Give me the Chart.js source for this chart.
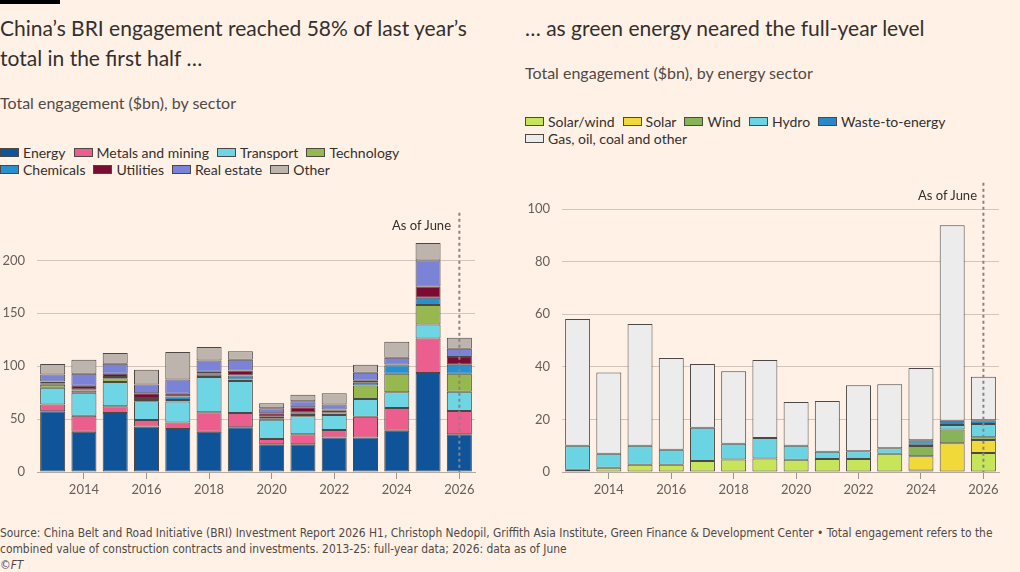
<!DOCTYPE html>
<html lang="en">
<head>
<meta charset="UTF-8">
<title>China BRI engagement</title>
<script src="https://cdn.jsdelivr.net/npm/chart.js"></script>
<style>
  body { margin: 0; background: #fff1e5; font-family: Lato, 'Noto Sans', sans-serif; color: #33302e; }
  #page { position: relative; width: 1020px; height: 572px; overflow: hidden; }
  .abs { position: absolute; }
  .topbar { left: 0; top: 0; width: 60px; height: 4px; background: #000; }
  .title { font-size: 21px; line-height: 30px; color: #33302e; white-space: nowrap; }
  .sub { font-size: 16px; line-height: 18px; color: #4f4a47; white-space: nowrap; }
  .legend { font-size: 14px; line-height: 17px; color: #33302e; white-space: nowrap; }
  .legend .item { display: inline-block; margin-right: 8px; }
  .legend i { display: inline-block; width: 17px; height: 7px; border: 1px solid #4d4845; margin-right: 4px; vertical-align: 1px; }
  .note { font-size: 13px; line-height: 16px; color: #33302e; white-space: nowrap; }
  #footer { left: 0; top: 525px; font-family: 'Liberation Sans Narrow', 'DejaVu Sans Condensed', sans-serif; font-size: 11.9px; line-height: 16px; color: #4f4a47; white-space: nowrap; }
  canvas { position: absolute; }
</style>
</head>
<body>
<div id="page">
  <div class="abs topbar"></div>
  <div class="abs title" style="left:0; top:13px;">China’s BRI engagement reached 58% of last year’s<br>total in the first half …</div>
  <div class="abs sub" style="left:0; top:94px;">Total engagement ($bn), by sector</div>
  <div class="abs legend" id="legendLeft" style="left:0; top:144px;"></div>

  <div class="abs title" style="left:525px; top:13px;">… as green energy neared the full-year level</div>
  <div class="abs sub" style="left:525px; top:64px;">Total engagement ($bn), by energy sector</div>
  <div class="abs legend" id="legendRight" style="left:525px; top:113px;"></div>

  <canvas id="sectorChart" width="485" height="308" style="left:0; top:193px;"></canvas>
  <canvas id="energyChart" width="500" height="338" style="left:510px; top:163px;"></canvas>

  <div class="abs note" style="right:569px; top:217px;">As of June</div>
  <div class="abs note" style="right:43px; top:187px;">As of June</div>

  <div class="abs" id="footer">Source: China Belt and Road Initiative (BRI) Investment Report 2026 H1, Christoph Nedopil, Griffith Asia Institute, Green Finance &amp; Development Center • Total engagement refers to the<br>combined value of construction contracts and investments. 2013-25: full-year data; 2026: data as of June<br><i>©FT</i></div>
</div>

<script>
// years shown on both charts
const years = ['2013', '2014', '2015', '2016', '2017', '2018', '2019', '2020', '2021', '2022', '2023', '2024', '2025', '2026'];

// left chart: engagement by sector ($bn)
const energy     = [57.4, 38.0, 55.8, 43.1, 40.6, 38.0, 42.2, 26.3, 26.3, 32.6, 32.6, 39.0, 93.5, 35.8];
const metals     = [6.3, 15.2, 6.3, 6.0, 6.3, 18.4, 13.6, 4.8, 9.5, 7.0, 19.7, 21.5, 32.6, 21.9];
const transport  = [15.9, 21.6, 22.9, 17.8, 19.7, 33.3, 30.1, 18.3, 16.8, 14.3, 16.8, 14.9, 13.4, 18.1];
const technology = [2.8, 2.2, 3.7, 1.2, 1.5, 2.2, 1.6, 1.3, 1.3, 2.5, 12.7, 17.5, 18.3, 17.1];
const chemicals  = [1.6, 1.3, 1.0, 1.9, 3.2, 1.0, 3.8, 1.9, 2.5, 1.6, 2.5, 7.9, 7.0, 8.5];
const utilities  = [1.6, 3.2, 3.2, 4.5, 2.6, 1.9, 4.7, 2.9, 4.8, 1.0, 1.9, 0.9, 10.5, 7.3];
const realEstate = [6.6, 11.4, 9.5, 8.2, 13.6, 10.7, 10.2, 4.7, 5.7, 4.7, 7.6, 6.4, 24.7, 7.9];
const other      = [9.8, 13.3, 10.1, 14.0, 26.0, 12.7, 7.9, 4.8, 6.0, 10.8, 7.6, 14.9, 16.5, 10.2];

// right chart: engagement by energy sector ($bn)
const solarWind = [0.9, 1.6, 2.8, 2.8, 4.2, 4.8, 5.1, 4.7, 4.9, 4.9, 6.9, 0.6, null, 7.2];
const solar     = [null, null, null, null, null, null, null, null, null, null, null, 5.4, 10.9, 5.0];
const wind      = [null, null, null, null, null, null, null, null, null, null, null, 3.9, 5.3, 1.0];
const hydro     = [9.1, 5.3, 7.2, 5.7, 12.6, 5.9, 7.8, 5.3, 2.8, 3.0, 2.1, 0.8, 1.7, 5.1];
const waste     = [null, null, null, null, null, null, null, null, null, null, null, 1.4, 1.6, 1.4];
const gasOil    = [48.2, 30.9, 46.3, 34.9, 24.3, 27.6, 29.7, 16.6, 19.3, 25.1, 24.4, 27.5, 74.4, 16.5];

// y tick labels
const sectorTicks = [0, 50, 100, 150, 200];
const energyTicks = [0, 20, 40, 60, 80, 100];

Chart.defaults.font.family = "Lato, 'Noto Sans', sans-serif";
Chart.defaults.color = '#66605c';

const sectorSets = [
  { label: 'Energy', data: energy, backgroundColor: '#0f5499' },
  { label: 'Metals and mining', data: metals, backgroundColor: '#eb5e8d' },
  { label: 'Transport', data: transport, backgroundColor: '#6dd5e3' },
  { label: 'Technology', data: technology, backgroundColor: '#96b84e' },
  { label: 'Chemicals', data: chemicals, backgroundColor: '#2890cf' },
  { label: 'Utilities', data: utilities, backgroundColor: '#7a0c34' },
  { label: 'Real estate', data: realEstate, backgroundColor: '#7b83d6' },
  { label: 'Other', data: other, backgroundColor: '#bdb5ad' }
];

const energySets = [
  { label: 'Solar/wind', data: solarWind, backgroundColor: '#c7e55a' },
  { label: 'Solar', data: solar, backgroundColor: '#f1d93a' },
  { label: 'Wind', data: wind, backgroundColor: '#86b456' },
  { label: 'Hydro', data: hydro, backgroundColor: '#6bd4e3' },
  { label: 'Waste-to-energy', data: waste, backgroundColor: '#2a88c8' },
  { label: 'Gas, oil, coal and other', data: gasOil, backgroundColor: '#ececec' }
];

// html legends, wrap after the given index
function buildLegend(el, sets, breakAfter) {
  el.innerHTML = sets.map((s, i) =>
    '<span class="item"><i style="background:' + s.backgroundColor + '"></i>' + s.label + '</span>' +
    (i === breakAfter ? '<br>' : '')
  ).join('');
}
buildLegend(document.getElementById('legendLeft'), sectorSets, 3);
buildLegend(document.getElementById('legendRight'), energySets, 4);

// dotted line through the latest (partial) year
const asOfLine = {
  id: 'asOfLine',
  afterDatasetsDraw(chart) {
    const { ctx, chartArea, scales } = chart;
    const x = scales.x.getPixelForValue(years.length - 1);
    ctx.save();
    ctx.strokeStyle = '#8a8480';
    ctx.lineWidth = 2;
    ctx.setLineDash([3, 3]);
    ctx.beginPath();
    ctx.moveTo(x, chartArea.top);
    ctx.lineTo(x, chartArea.bottom);
    ctx.stroke();
    ctx.restore();
  }
};

function makeChart(id, sets, yMax, yTicks, yWidth, padTop, padRight) {
  return new Chart(document.getElementById(id), {
    type: 'bar',
    data: {
      labels: years,
      datasets: sets.map(s => Object.assign({
        borderColor: '#4d4845',
        borderWidth: 1,
        borderSkipped: false,
        barPercentage: 0.8,
        categoryPercentage: 1.0
      }, s))
    },
    options: {
      responsive: false,
      animation: false,
      devicePixelRatio: 1,
      layout: { padding: { top: padTop, right: padRight, left: 0, bottom: 0 } },
      plugins: { legend: { display: false }, tooltip: { enabled: false } },
      scales: {
        x: {
          stacked: true,
          grid: { drawOnChartArea: false, drawTicks: true, tickLength: 7, offset: false, color: '#9b938c' },
          border: { color: '#b3aaa2' },
          ticks: { autoSkip: false, maxRotation: 0, padding: 3, font: { size: 13 }, color: '#66605c' },
          afterBuildTicks: axis => { axis.ticks = axis.ticks.filter(t => Number(years[t.value]) % 2 === 0); },
          afterFit: axis => { axis.height = 29; }
        },
        y: {
          stacked: true,
          min: 0,
          max: yMax,
          grid: { color: '#d0c6bc', drawTicks: false },
          border: { display: false },
          ticks: { padding: 12, font: { size: 13 }, color: '#66605c' },
          afterBuildTicks: axis => { axis.ticks = yTicks.map(v => ({ value: v })); },
          afterFit: axis => { axis.width = yWidth; }
        }
      }
    },
    plugins: [asOfLine]
  });
}

makeChart('sectorChart', sectorSets, 245, sectorTicks, 37, 5, 10);
makeChart('energyChart', energySets, 110, energyTicks, 52, 5, 11);
</script>
</body>
</html>
